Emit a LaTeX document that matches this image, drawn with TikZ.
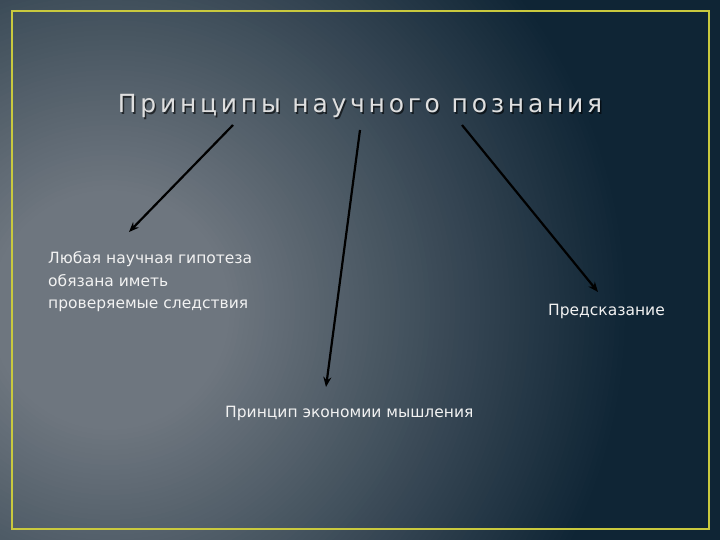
\documentclass[tikz,border=0pt]{standalone}
\usepackage{fontspec}
\setmainfont{DejaVu Sans}
\newfontfamily\titlefont[LetterSpace=15]{DejaVu Sans}
\usetikzlibrary{arrows.meta}
\definecolor{bgLight}{HTML}{6E767F}
\definecolor{bgDeep}{HTML}{0F2535}
\definecolor{frameYellow}{HTML}{C9C93E}
\definecolor{textLight}{HTML}{F2F2F2}
\tikzset{
  pointer/.style={line width=2.2pt, black, -{Stealth[length=10pt,width=8pt]}},
  bodytext/.style={textLight, inner sep=0pt, align=left,
    font=\fontsize{15.5}{22.5}\selectfont},
}
\begin{document}
\begin{tikzpicture}[x=1pt,y=-1pt]
        \useasboundingbox (0,0) rectangle (720,540);
        \fill[bgDeep] (0,0) rectangle (720,540);
        \begin{scope}
            \clip (0,0) rectangle (720,540);
            \foreach \r in {700,695,...,5} {
                \pgfmathsetmacro{\p}{min(100,max(0,(\r-120)/4))}
                \fill[bgDeep!\p!bgLight] (110,310) circle (\r);
            }
        \end{scope}
        \draw[frameYellow, line width=2pt] (12,11) rectangle (709,529);
        % title with shadow
        \node[anchor=base, inner sep=0pt, black, opacity=0.6,
            font=\titlefont\fontsize{25}{30}\selectfont] at (361.5,114.5) {Принципы научного познания};
        \node (title) [anchor=base, inner sep=0pt, textLight!92!black,
            font=\titlefont\fontsize{25}{30}\selectfont] at (360,113) {Принципы научного познания};
        % the three principles
        \node (hypo) [bodytext, anchor=base west] at (48,308.5) {Любая научная гипотеза\\обязана иметь\\проверяемые следствия};
        \node (econ) [bodytext, anchor=base west] at (225,417) {Принцип экономии мышления};
        \node (pred) [bodytext, anchor=base west] at (548,315) {Предсказание};
        \coordinate (s1) at (233,125);
        \coordinate (e1) at (129,232);
        \coordinate (s2) at (360,130);
        \coordinate (e2) at (326,387);
        \coordinate (s3) at (462,125);
        \coordinate (e3) at (598,292);
        \draw[pointer] (s1) -- (e1);
        \draw[pointer] (s2) -- (e2);
        \draw[pointer] (s3) -- (e3);
    \end{tikzpicture}
\end{document}
